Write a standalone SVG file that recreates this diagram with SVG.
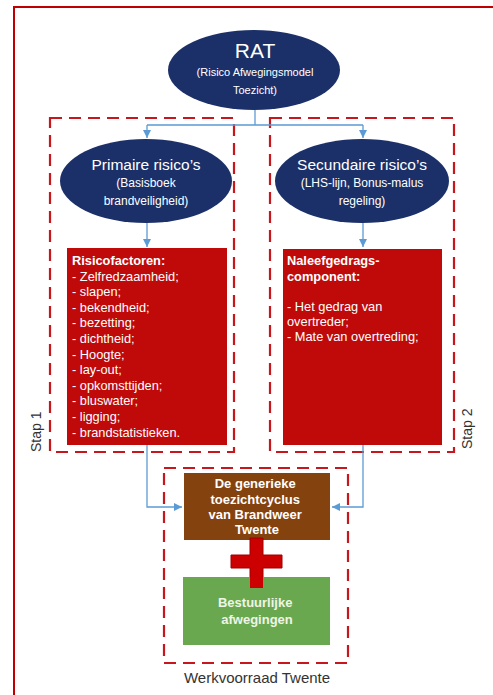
<svg xmlns="http://www.w3.org/2000/svg" width="493" height="695" viewBox="0 0 493 695">
<style>
.t{font-family:"Liberation Sans",Arial,sans-serif;fill:#fff}
.ell{fill:#1b2f68}
.dash{fill:none;stroke:#c8161d;stroke-width:2.2;stroke-dasharray:12 7}
.conn{fill:none;stroke:#5b9bd5;stroke-width:1.3}
.red{fill:#c00a0a}
.b{font-weight:bold}
.lbl{font-family:"Liberation Sans",Arial,sans-serif;fill:#333}
</style>
<defs>
<marker id="ah" markerWidth="10" markerHeight="10" refX="8" refY="4" orient="auto" markerUnits="userSpaceOnUse">
<path d="M0,0 L8,4 L0,8 Z" fill="#5b9bd5"/>
</marker>
</defs>
<rect x="0" y="0" width="493" height="695" fill="#fff"/>
<rect id="frame" x="14" y="7" width="500" height="720" fill="none" stroke="#c00000" stroke-width="2"/>

<g id="groups">
<rect id="stap1" class="dash" x="50" y="118" width="184" height="334"/>
<rect id="stap2" class="dash" x="270" y="118" width="184" height="334"/>
<rect id="werkvoorraad" class="dash" x="164" y="468" width="184" height="195"/>
<text class="lbl" font-size="14" transform="translate(41,452) rotate(-90)">Stap 1</text>
<text class="lbl" font-size="14" transform="translate(472,449) rotate(-90)">Stap 2</text>
<text class="lbl" font-size="15" x="257" y="683" text-anchor="middle">Werkvoorraad Twente</text>
</g>

<g id="connectors">
<path class="conn" d="M255,110 V125 M147,125 H363"/>
<path class="conn" d="M147,125 V138" marker-end="url(#ah)"/>
<path class="conn" d="M363,125 V138" marker-end="url(#ah)"/>
<path class="conn" d="M147,223 V247" marker-end="url(#ah)"/>
<path class="conn" d="M363,223 V247" marker-end="url(#ah)"/>
<path class="conn" d="M147,445 V507 H182" marker-end="url(#ah)"/>
<path class="conn" d="M363,445 V507 H332" marker-end="url(#ah)"/>
</g>

<g id="rat">
<ellipse class="ell" cx="254" cy="70" rx="86" ry="40"/>
<text class="t" font-size="21" x="255" y="58" text-anchor="middle">RAT</text>
<text class="t" font-size="11" x="255" y="76" text-anchor="middle">(Risico Afwegingsmodel</text>
<text class="t" font-size="11" x="255" y="94" text-anchor="middle">Toezicht)</text>
</g>

<g id="primaire">
<ellipse class="ell" cx="146" cy="181" rx="86" ry="42"/>
<text class="t" font-size="15.5" x="146" y="170" text-anchor="middle">Primaire risico’s</text>
<text class="t" font-size="12" x="146" y="187" text-anchor="middle">(Basisboek</text>
<text class="t" font-size="12" x="146" y="205" text-anchor="middle">brandveiligheid)</text>
</g>

<g id="secundaire">
<ellipse class="ell" cx="362" cy="181" rx="87" ry="42"/>
<text class="t" font-size="15.5" x="362" y="170" text-anchor="middle">Secundaire risico’s</text>
<text class="t" font-size="12" x="362" y="187" text-anchor="middle">(LHS-lijn, Bonus-malus</text>
<text class="t" font-size="12" x="362" y="205" text-anchor="middle">regeling)</text>
</g>

<g id="risicofactoren">
<rect class="red" x="67" y="248" width="160" height="197"/>
<text class="t" font-size="12.8" x="72">
<tspan class="b" x="72" y="265">Risicofactoren:</tspan>
<tspan x="72" y="280.6">- Zelfredzaamheid;</tspan>
<tspan x="72" y="296.2">- slapen;</tspan>
<tspan x="72" y="311.8">- bekendheid;</tspan>
<tspan x="72" y="327.4">- bezetting;</tspan>
<tspan x="72" y="343">- dichtheid;</tspan>
<tspan x="72" y="358.6">- Hoogte;</tspan>
<tspan x="72" y="374.2">- lay-out;</tspan>
<tspan x="72" y="389.8">- opkomsttijden;</tspan>
<tspan x="72" y="405.4">- bluswater;</tspan>
<tspan x="72" y="421">- ligging;</tspan>
<tspan x="72" y="436.6">- brandstatistieken.</tspan>
</text>
</g>

<g id="naleefgedrag">
<rect class="red" x="283" y="249" width="159" height="196"/>
<text class="t" font-size="12.8">
<tspan class="b" x="287" y="265">Naleefgedrags-</tspan>
<tspan class="b" x="287" y="281">component:</tspan>
<tspan x="287" y="311">- Het gedrag van</tspan>
<tspan x="287" y="326">overtreder;</tspan>
<tspan x="287" y="341">- Mate van overtreding;</tspan>
</text>
</g>

<g id="toezichtcyclus">
<rect x="184" y="473" width="146" height="67" fill="#84420f"/>
<text class="t b" font-size="13" text-anchor="middle">
<tspan x="257" y="488">De generieke</tspan>
<tspan x="257" y="503.5">toezichtcyclus</tspan>
<tspan x="257" y="519">van Brandweer</tspan>
<tspan x="257" y="534">Twente</tspan>
</text>
</g>

<g id="plus">
<path d="M250,538 H263 V555 H282 V568 H263 V588 H250 V568 H231 V555 H250 Z" fill="#cc0000" stroke="#a00000" stroke-width="1"/>
</g>

<g id="bestuurlijk">
<rect x="183" y="577" width="147" height="68" fill="#6aa84f"/>
<text class="b" font-family="Liberation Sans, Arial, sans-serif" font-size="13" fill="#eef5e6" text-anchor="middle">
<tspan x="257" y="607">Bestuurlijke</tspan>
<tspan x="257" y="624">afwegingen</tspan>
</text>
</g>
<path id="plus-top" d="M250,577 H263 V588 H250 Z" fill="#cc0000"/>
</svg>
